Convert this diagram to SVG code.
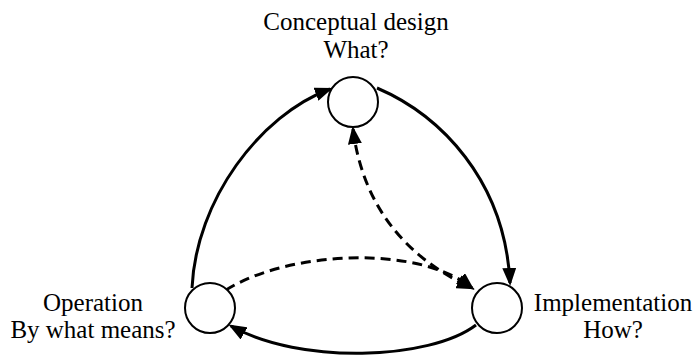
<svg xmlns="http://www.w3.org/2000/svg" width="695" height="355" viewBox="0 0 695 355">
<defs>
<style>
.lbl{font-family:'Liberation Serif','Times New Roman',Times,'DejaVu Serif',serif;font-size:25px;fill:#000;text-anchor:middle}
.node{fill:#fff;stroke:#000;stroke-width:2}
.solid{fill:none;stroke:#000;stroke-width:3}
.dash{fill:none;stroke:#000;stroke-width:3;stroke-dasharray:10 6}
</style>
<marker id="ah" markerUnits="userSpaceOnUse" markerWidth="18" markerHeight="14" viewBox="0 0 18 14" refX="15" refY="7" orient="auto-start-reverse">
<path d="M0,0 L18,7 L0,14 Z" fill="#000"/>
</marker>
</defs>
<rect width="695" height="355" fill="#fff"/>
<g id="connectors">
<path class="solid" d="M192,288 C196,200 260,115 330,89" marker-end="url(#ah)"/>
<path class="solid" d="M377,88 C440,115 505,180 510,283" marker-end="url(#ah)"/>
<path class="solid" d="M476,325 C430,360 300,365 231,326" marker-end="url(#ah)"/>
<path class="dash" d="M353,129 C362,200 400,255 472,288" marker-start="url(#ah)" marker-end="url(#ah)"/>
<path class="dash" d="M226,290 C290,250 420,245 472,288" marker-end="url(#ah)"/>
</g>
<g id="node-conceptual">
<circle class="node" cx="353" cy="102" r="25"/>
<text class="lbl" font-family="Liberation Serif, serif" x="356" y="30">Conceptual design</text>
<text class="lbl" font-family="Liberation Serif, serif" x="356" y="58">What?</text>
</g>
<g id="node-operation">
<circle class="node" cx="210" cy="308" r="25"/>
<text class="lbl" font-family="Liberation Serif, serif" x="93" y="311">Operation</text>
<text class="lbl" font-family="Liberation Serif, serif" x="93" y="338">By what means?</text>
</g>
<g id="node-implementation">
<circle class="node" cx="497" cy="308" r="25"/>
<text class="lbl" font-family="Liberation Serif, serif" x="613" y="311">Implementation</text>
<text class="lbl" font-family="Liberation Serif, serif" x="613" y="338">How?</text>
</g>
</svg>
